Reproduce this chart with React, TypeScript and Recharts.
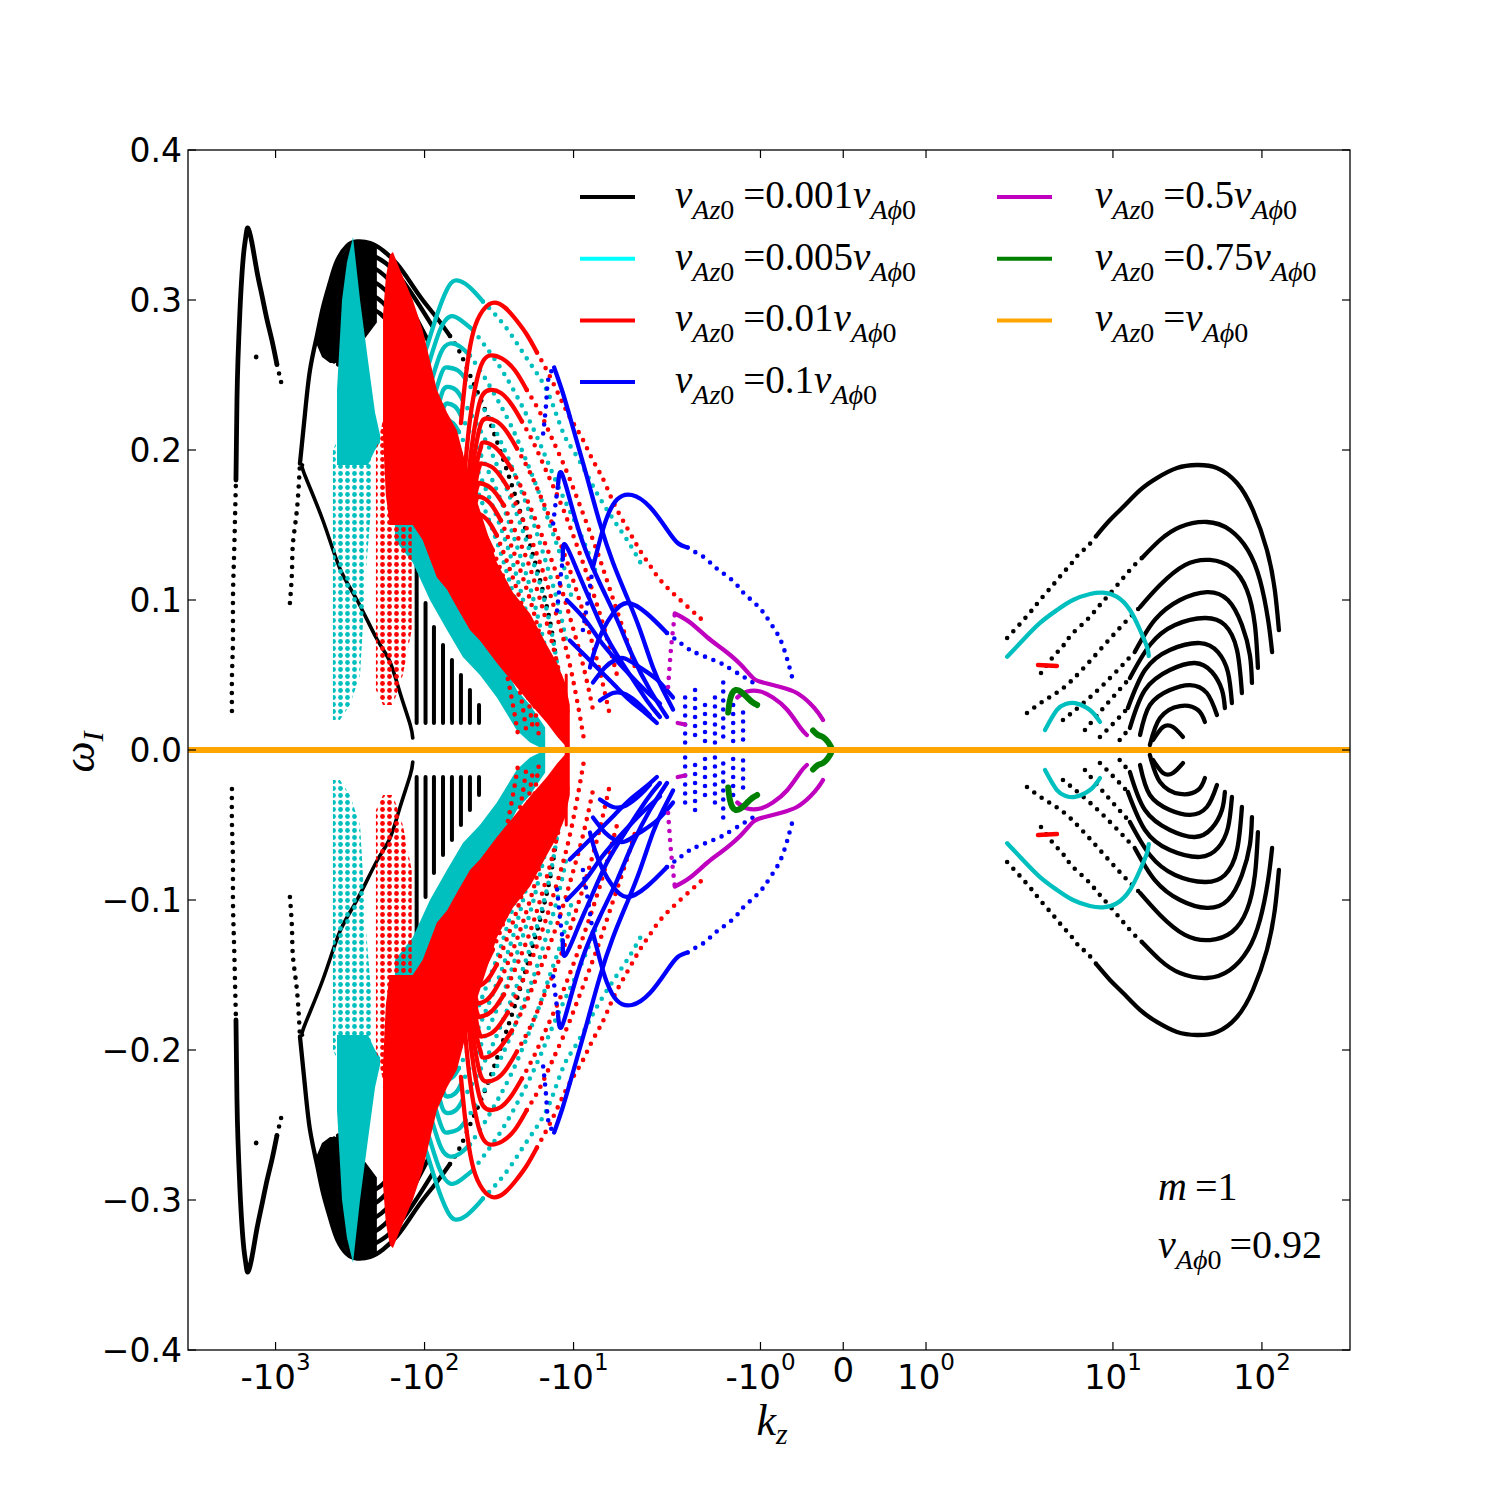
import React from "react";
import { ComposedChart, Line, Area, Scatter, XAxis, YAxis } from "recharts";

type Pt = [number, number]; // [kz, omega_I]
type Band = [number, number, number]; // [kz, lower omega_I, upper omega_I]

// symlog x axis (linthresh 2, linscale 1, like matplotlib)
const LINTHRESH = 2;
const LINSCALE = 1 / (1 - 1 / 10);
const symlog = (k: number) => {
  const a = Math.abs(k);
  return a <= LINTHRESH ? k * LINSCALE : Math.sign(k) * LINTHRESH * (LINSCALE + Math.log10(a / LINTHRESH));
};

const kzRange = [-3870, 390];
const xTickKz = [-1000, -100, -10, -1, 0, 1, 10, 100];
const xTickBase = ["-10", "-10", "-10", "-10", "0", "10", "10", "10"];
const xTickExp = ["3", "2", "1", "0", "", "0", "1", "2"];
const yTicks = [-0.4, -0.3, -0.2, -0.1, 0, 0.1, 0.2, 0.3, 0.4];
const yTickLabels = ["\u22120.4", "\u22120.3", "\u22120.2", "\u22120.1", "0.0", "0.1", "0.2", "0.3", "0.4"];

const legendCoef = ["0.001", "0.005", "0.01", "0.1", "0.5", "0.75", ""];
const legendColors = ["#000000", "#00ffff", "#ff0000", "#0000ff", "#bf00bf", "#008000", "#ffa500"];

// ---------- vAz0 = 0.001 vAphi0 (black) ----------
const blackSpikeDots: Pt[] = [[-1962, 0.026], [-1962, 0.049], [-1932, 0.073], [-1932, 0.1], [-1902, 0.127], [-1873, 0.153], [-1844, 0.18]];
const blackSpike: Pt[] = [[-1844, 0.18], [-1830, 0.207], [-1816, 0.233], [-1788, 0.26], [-1734, 0.293], [-1681, 0.317], [-1630, 0.333], [-1580, 0.343], [-1532, 0.348], [-1440, 0.338], [-1333, 0.319], [-1234, 0.303], [-1142, 0.287], [-1057, 0.273], [-979, 0.257]];
const blackSpikeEnd: Pt[] = [[-979, 0.257], [-906, 0.243], [-890, 0.241]];
const blackStray: Pt[] = [[-1350, 0.262]];
const blackHumpDots: Pt[] = [[-801, 0.098], [-776, 0.119], [-764, 0.138], [-719, 0.16], [-686, 0.191]];
const blackHump: Pt[] = [[-686, 0.191], [-635, 0.224], [-588, 0.253], [-528, 0.276], [-481, 0.295], [-431, 0.312], [-387, 0.326], [-332, 0.336], [-284, 0.339], [-232, 0.338], [-190, 0.333], [-153, 0.324], [-125, 0.312], [-103, 0.3], [-82.6, 0.288], [-67.5, 0.276]];
const blackHumpTail: Pt[] = [[-67.5, 0.276], [-57.9, 0.265], [-49.6, 0.25], [-39.3, 0.227], [-31.2, 0.2], [-24.7, 0.17], [-19.6, 0.137], [-15.5, 0.1], [-13.1, 0.06], [-11.8, 0.007]];
const blackCore: Band[] = [[-528, 0.27, 0.28], [-488, 0.262, 0.29], [-431, 0.258, 0.312], [-370, 0.258, 0.328], [-317, 0.26, 0.337], [-271, 0.27, 0.339], [-209, 0.285, 0.336]];
const blackInner1: Pt[] = [[-488, 0.27], [-418, 0.3], [-342, 0.323], [-284, 0.332], [-215, 0.329], [-158, 0.319], [-116, 0.301], [-89.2, 0.283]];
const blackInner2: Pt[] = [[-459, 0.265], [-393, 0.292], [-327, 0.313], [-280, 0.323], [-215, 0.321], [-158, 0.309], [-120, 0.292], [-94.9, 0.273]];
const blackInner3: Pt[] = [[-431, 0.261], [-370, 0.283], [-317, 0.303], [-271, 0.313], [-209, 0.311], [-158, 0.299], [-123, 0.281], [-101, 0.263]];
const blackInner4: Pt[] = [[-406, 0.259], [-347, 0.277], [-302, 0.293], [-263, 0.303], [-206, 0.301], [-158, 0.288], [-127, 0.271], [-107, 0.255]];
const blackInner5: Pt[] = [[-381, 0.257], [-332, 0.27], [-289, 0.283], [-255, 0.293], [-199, 0.291], [-156, 0.277], [-131, 0.261], [-114, 0.245]];
const blackDiag: Pt[] = [[-660, 0.19], [-635, 0.183], [-481, 0.153], [-370, 0.121], [-284, 0.1], [-209, 0.074], [-171, 0.059], [-146, 0.038], [-125, 0.017], [-120, 0.008]];
const blackStripeKz = [-113, -98.5, -86.5, -75.2, -65.5, -57.0, -49.6, -43.1];
const blackStripeTop = [0.125, 0.098, 0.082, 0.07, 0.06, 0.05, 0.04, 0.03];
const blackR1Dots: Pt[] = [[1.98, 0.0747], [2.65, 0.0893], [3.29, 0.1007], [3.96, 0.11], [4.62, 0.118], [5.31, 0.1247], [5.91, 0.1307], [6.69, 0.1353], [7.81, 0.1433]];
const blackR1: Pt[] = [[7.81, 0.1433], [9.55, 0.1533], [11.7, 0.162], [15.2, 0.1733], [19.7, 0.1813], [26.9, 0.188], [36.6, 0.19], [49.9, 0.188], [68.0, 0.178], [87.0, 0.16], [108, 0.1333], [122, 0.1067], [130, 0.08]];
const blackR2Dots: Pt[] = [[3.29, 0.0513], [3.96, 0.062], [4.62, 0.0693], [5.31, 0.0773], [6.69, 0.0867], [8.18, 0.0967], [10.3, 0.108], [13.0, 0.12], [15.9, 0.1287]];
const blackR2: Pt[] = [[15.9, 0.1287], [20.7, 0.14], [28.2, 0.1487], [42.7, 0.152], [61.0, 0.1467], [80.5, 0.1333], [97.0, 0.1133], [110, 0.0867], [117, 0.0653]];
const blackR3Dots: Pt[] = [[2.65, 0.0247], [3.5, 0.0333], [4.55, 0.0407], [6.01, 0.052], [8.18, 0.0667], [11.1, 0.0813], [15.2, 0.0953]];
const blackR3: Pt[] = [[15.2, 0.0953], [20.7, 0.11], [30.4, 0.1233], [44.8, 0.1267], [62.9, 0.1213], [79.3, 0.1067], [89.7, 0.0833], [94.0, 0.0547]];
const blackR4Dots: Pt[] = [[4.62, 0.02], [6.01, 0.0293], [8.18, 0.0413], [11.1, 0.0547], [14.0, 0.0653]];
const blackR4: Pt[] = [[14.0, 0.0653], [19.1, 0.0867], [28.2, 0.1], [42.7, 0.1053], [59.1, 0.1], [73.4, 0.0833], [83.0, 0.0633], [85.7, 0.0447]];
const blackR5Dots: Pt[] = [[6.49, 0.0133], [8.18, 0.0253], [10.3, 0.0367], [13.0, 0.048]];
const blackR5: Pt[] = [[13.0, 0.048], [17.7, 0.07], [26.1, 0.0833], [41.4, 0.088], [56.4, 0.0833], [68.0, 0.0667], [73.4, 0.038]];
const blackR6Dots: Pt[] = [[8.18, 0.0087], [10.3, 0.0187], [12.6, 0.028]];
const blackR6: Pt[] = [[12.6, 0.028], [16.4, 0.0533], [24.1, 0.0667], [38.4, 0.0713], [50.7, 0.0653], [59.1, 0.052], [62.9, 0.0313]];
const blackR7Dots: Pt[] = [[11.1, 0.0067], [13.0, 0.0147]];
const blackR7: Pt[] = [[13.0, 0.0147], [16.4, 0.04], [24.1, 0.0533], [35.5, 0.058], [46.2, 0.052], [53.9, 0.04], [56.4, 0.028]];
const blackR8: Pt[] = [[15.2, 0.01], [17.7, 0.03], [24.1, 0.04], [32.9, 0.0433], [42.7, 0.038], [49.9, 0.0233]];
const blackR9: Pt[] = [[17.7, 0.0033], [20.7, 0.0213], [28.2, 0.0293], [37.2, 0.0267], [41.4, 0.0187]];
const blackR10: Pt[] = [[18.6, 0.0067], [21.7, 0.0153], [25.3, 0.0153], [29.5, 0.0087]];

// ---------- vAz0 = 0.005 vAphi0 (cyan) ----------
const cyanSpikeCore: Band[] = [[-387, 0.19, 0.24], [-358, 0.19, 0.3], [-332, 0.19, 0.325], [-302, 0.19, 0.342], [-271, 0.19, 0.3], [-240, 0.19, 0.26], [-215, 0.2, 0.225], [-199, 0.205, 0.21]];
const cyanCloud: Band[] = [[-412, 0.02, 0.2], [-370, 0.02, 0.21], [-317, 0.03, 0.21], [-271, 0.05, 0.2], [-247, 0.12, 0.2], [-225, 0.17, 0.2]];
const cyanBand: Band[] = [[-158, 0.14, 0.19], [-120, 0.125, 0.16], [-92, 0.1, 0.14], [-70.7, 0.08, 0.12], [-55.3, 0.062, 0.1], [-42.5, 0.05, 0.08], [-32.7, 0.035, 0.065], [-24.0, 0.013, 0.04], [-19.6, 0.005, 0.03], [-15.5, 0, 0.015]];
const cyanArc1: Pt[] = [[-107, 0.257], [-96.4, 0.269], [-82.6, 0.29], [-70.7, 0.307], [-62.5, 0.313], [-53.6, 0.311], [-45.9, 0.305], [-40.6, 0.299]];
const cyanArc1Dots: Pt[] = [[-40.6, 0.299], [-32.7, 0.289], [-26.7, 0.278], [-21.9, 0.265], [-17.6, 0.251], [-14.4, 0.235], [-11.8, 0.212], [-10.1, 0.2], [-8.26, 0.185], [-6.86, 0.17], [-5.11, 0.15], [-4.18, 0.137], [-3.47, 0.123]];
const cyanArc2: Pt[] = [[-107, 0.24], [-92, 0.26], [-78.8, 0.28], [-67.5, 0.289], [-57.9, 0.287], [-47.3, 0.28]];
const cyanArc2Dots: Pt[] = [[-47.3, 0.28], [-36.4, 0.265], [-28.9, 0.25], [-22.9, 0.232], [-18.2, 0.212], [-14.9, 0.192], [-12.3, 0.173], [-10.1, 0.155], [-8.38, 0.137], [-6.97, 0.117]];
const cyanArc3: Pt[] = [[-103, 0.227], [-89.2, 0.247], [-77.6, 0.265], [-67.5, 0.271], [-57.9, 0.269], [-49.6, 0.263]];
const cyanArc3Dots: Pt[] = [[-49.6, 0.263], [-39.9, 0.249], [-32.2, 0.233], [-25.9, 0.215], [-21.2, 0.195], [-17.3, 0.173], [-14.4, 0.15], [-12.0, 0.127], [-10.2, 0.1]];
const cyanArc4: Pt[] = [[-99.4, 0.213], [-86.5, 0.235], [-76.4, 0.252], [-69.7, 0.255], [-59.7, 0.253], [-52.8, 0.247]];
const cyanArc4Dots: Pt[] = [[-52.8, 0.247], [-42.5, 0.232], [-34.2, 0.215], [-27.6, 0.195], [-22.5, 0.173], [-18.4, 0.15], [-15.3, 0.125], [-12.9, 0.1], [-11.2, 0.073]];
const cyanArc5: Pt[] = [[-94.9, 0.201], [-83.8, 0.223], [-76.4, 0.238], [-70.7, 0.242], [-61.5, 0.24], [-55.3, 0.233]];
const cyanArc5Dots: Pt[] = [[-55.3, 0.233], [-44.5, 0.217], [-35.8, 0.199], [-28.9, 0.177], [-23.6, 0.155], [-19.3, 0.13], [-16.0, 0.103], [-13.7, 0.073], [-12.1, 0.04]];
const cyanArc6: Pt[] = [[-92, 0.19], [-82.6, 0.212], [-75.2, 0.227], [-70.7, 0.231], [-62.5, 0.229], [-57.0, 0.223]];
const cyanArc6Dots: Pt[] = [[-57.0, 0.223], [-45.9, 0.205], [-37.0, 0.185], [-29.8, 0.163], [-24.4, 0.138], [-19.9, 0.111], [-16.8, 0.083], [-14.4, 0.053], [-12.9, 0.02]];
const cyanArc7: Pt[] = [[-89.2, 0.18], [-81.3, 0.201], [-75.2, 0.216], [-71.8, 0.22], [-64.5, 0.218], [-58.8, 0.212]];
const cyanArc7Dots: Pt[] = [[-58.8, 0.212], [-47.3, 0.193], [-38.1, 0.172], [-30.7, 0.148], [-25.1, 0.122], [-20.9, 0.093], [-17.6, 0.063], [-15.3, 0.03]];
const cyanArc8: Pt[] = [[-86.5, 0.17], [-80.1, 0.192], [-75.2, 0.207], [-71.8, 0.211], [-65.5, 0.209], [-60.6, 0.203]];
const cyanArc8Dots: Pt[] = [[-60.6, 0.203], [-48.8, 0.183], [-39.3, 0.16], [-31.7, 0.135], [-25.9, 0.107], [-21.5, 0.077], [-18.4, 0.043]];
const cyanRight: Pt[] = [[1.98, 0.0622], [2.49, 0.0733], [3.24, 0.0847], [4.21, 0.0933], [5.39, 0.1], [7.01, 0.104], [8.57, 0.1049], [10.6, 0.1022], [13.0, 0.0933], [15.2, 0.08], [16.9, 0.0689], [17.4, 0.0627]];
const cyanRightSmall: Pt[] = [[3.5, 0.0133], [4.21, 0.0267], [4.84, 0.0307], [5.56, 0.0313], [7.01, 0.0267], [8.18, 0.0187]];

// ---------- vAz0 = 0.01 vAphi0 (red) ----------
const redCloud: Band[] = [[-212, 0.04, 0.2], [-190, 0.03, 0.22], [-163, 0.03, 0.2], [-140, 0.05, 0.18], [-122, 0.08, 0.16]];
const redBand: Band[] = [[-190, 0.21, 0.29], [-182, 0.17, 0.315], [-171, 0.15, 0.33], [-163, 0.15, 0.332], [-146, 0.15, 0.32], [-120, 0.15, 0.3], [-103, 0.14, 0.28], [-82.6, 0.115, 0.24], [-70.7, 0.107, 0.225], [-60.6, 0.095, 0.213], [-49.6, 0.08, 0.18], [-42.5, 0.073, 0.16], [-32.7, 0.058, 0.125], [-25.5, 0.045, 0.105], [-19.6, 0.031, 0.091], [-15.1, 0.018, 0.07], [-12.9, 0.009, 0.058], [-11.4, 0.003, 0.045], [-10.6, 0, 0.03]];
const redArc1: Pt[] = [[-57.0, 0.218], [-52.8, 0.25], [-48.1, 0.275], [-42.5, 0.29], [-35.3, 0.298], [-28.9, 0.295], [-24.4, 0.287], [-20.6, 0.277], [-17.6, 0.265]];
const redArc1Dots: Pt[] = [[-17.6, 0.265], [-14.4, 0.249], [-11.8, 0.231], [-10.2, 0.219], [-8.78, 0.208], [-7.76, 0.197], [-6.86, 0.187], [-6.16, 0.178], [-5.28, 0.163], [-4.31, 0.147], [-3.58, 0.133], [-3.07, 0.123], [-2.55, 0.112], [-1.93, 0.098], [-1.67, 0.085]];
const redArc2: Pt[] = [[-53.6, 0.187], [-49.6, 0.22], [-44.5, 0.247], [-40.6, 0.259], [-36.4, 0.263], [-30.2, 0.261], [-24.7, 0.253], [-20.6, 0.24]];
const redArc2Dots: Pt[] = [[-20.6, 0.24], [-16.8, 0.225], [-14.0, 0.208], [-11.6, 0.19], [-9.64, 0.17], [-8.01, 0.149], [-6.65, 0.127], [-5.53, 0.103], [-4.59, 0.079], [-3.81, 0.053]];
const redArc3: Pt[] = [[-51.9, 0.173], [-48.1, 0.203], [-43.8, 0.227], [-40.6, 0.237], [-36.4, 0.24], [-30.7, 0.238], [-25.9, 0.23], [-22.2, 0.219]];
const redArc3Dots: Pt[] = [[-22.2, 0.219], [-18.2, 0.203], [-15.1, 0.185], [-12.5, 0.167], [-10.4, 0.147], [-8.65, 0.125], [-7.18, 0.101], [-6.06, 0.077], [-5.11, 0.05]];
const redArc4: Pt[] = [[-51.1, 0.163], [-47.3, 0.19], [-43.8, 0.21], [-41.2, 0.219], [-38.1, 0.221], [-32.7, 0.219], [-28.0, 0.212], [-24.0, 0.201]];
const redArc4Dots: Pt[] = [[-24.0, 0.201], [-19.6, 0.185], [-16.3, 0.167], [-13.5, 0.148], [-11.2, 0.127], [-9.34, 0.103], [-7.88, 0.079], [-6.65, 0.052], [-5.7, 0.023]];
const redArc5: Pt[] = [[-49.6, 0.153], [-46.6, 0.177], [-43.8, 0.195], [-41.8, 0.202], [-40.6, 0.205], [-34.8, 0.203], [-29.8, 0.196], [-25.9, 0.187]];
const redArc5Dots: Pt[] = [[-25.9, 0.187], [-21.2, 0.17], [-17.6, 0.151], [-14.6, 0.131], [-12.1, 0.108], [-10.2, 0.083], [-8.65, 0.057], [-7.41, 0.027]];
const redArc6: Pt[] = [[-48.8, 0.145], [-46.6, 0.167], [-44.5, 0.183], [-42.5, 0.19], [-41.2, 0.191], [-35.8, 0.189], [-31.2, 0.183], [-27.6, 0.175]];
const redArc6Dots: Pt[] = [[-27.6, 0.175], [-22.9, 0.158], [-19.0, 0.139], [-15.8, 0.117], [-13.3, 0.093], [-11.2, 0.067], [-9.64, 0.037], [-8.51, 0.007]];
const redArc7: Pt[] = [[-48.1, 0.137], [-46.6, 0.157], [-45.2, 0.172], [-43.8, 0.177], [-43.1, 0.178], [-37.5, 0.176], [-33.2, 0.171], [-29.3, 0.163]];
const redArc7Dots: Pt[] = [[-29.3, 0.163], [-24.4, 0.145], [-20.2, 0.125], [-17.1, 0.103], [-14.4, 0.077], [-12.3, 0.049], [-10.7, 0.02]];
const redArc8: Pt[] = [[-48.1, 0.13], [-47.3, 0.148], [-45.9, 0.163], [-44.5, 0.168], [-43.8, 0.169], [-38.7, 0.167], [-34.2, 0.161], [-30.7, 0.153]];
const redArc8Dots: Pt[] = [[-30.7, 0.153], [-25.9, 0.135], [-21.9, 0.115], [-18.4, 0.091], [-15.8, 0.065], [-13.7, 0.037], [-12.1, 0.007]];
const redArc9: Pt[] = [[-49.6, 0.123], [-48.8, 0.14], [-48.1, 0.153], [-46.6, 0.157], [-45.2, 0.158], [-40.6, 0.156], [-36.4, 0.151], [-32.7, 0.143]];
const redArc9Dots: Pt[] = [[-32.7, 0.143], [-27.6, 0.124], [-23.3, 0.103], [-19.9, 0.079], [-17.3, 0.052], [-15.3, 0.023]];
const redArc10: Pt[] = [[-51.1, 0.117], [-50.4, 0.132], [-49.6, 0.143], [-48.1, 0.148], [-46.6, 0.149], [-41.8, 0.147], [-38.1, 0.141], [-34.8, 0.133]];
const redArc10Dots: Pt[] = [[-34.8, 0.133], [-29.3, 0.114], [-25.1, 0.092], [-21.5, 0.067], [-19.0, 0.04], [-17.1, 0.01]];
const redArc11: Pt[] = [[-52.8, 0.107], [-51.9, 0.12], [-50.4, 0.13], [-48.1, 0.135], [-44.5, 0.135], [-40.6, 0.133], [-37.0, 0.127]];
const redArc11Dots: Pt[] = [[-37.0, 0.127], [-31.7, 0.109], [-27.1, 0.088], [-23.3, 0.065], [-20.6, 0.04], [-18.7, 0.013]];
const redArc12: Pt[] = [[-53.6, 0.1], [-52.8, 0.112], [-51.1, 0.122], [-48.8, 0.126], [-45.9, 0.127], [-42.5, 0.125], [-38.7, 0.119]];
const redArc12Dots: Pt[] = [[-38.7, 0.119], [-33.7, 0.102], [-29.3, 0.081], [-25.5, 0.059], [-22.5, 0.035], [-20.6, 0.01]];
const redArc13: Pt[] = [[-55.3, 0.092], [-54.4, 0.103], [-52.8, 0.113], [-50.4, 0.117], [-48.1, 0.118], [-44.5, 0.116], [-41.2, 0.111]];
const redArc13Dots: Pt[] = [[-41.2, 0.111], [-36.4, 0.095], [-32.2, 0.075], [-28.4, 0.053], [-25.5, 0.03], [-23.3, 0.007]];
const redStem: Pt[] = [[-11.2, 0], [-11.2, 0.05]];
const redRight: Pt[] = [[3.14, 0.0567], [4.21, 0.056]];

// ---------- vAz0 = 0.1 vAphi0 (blue) ----------
const blueArc1Dots: Pt[] = [[-16.0, 0.211], [-15.3, 0.23], [-14.9, 0.245], [-14.2, 0.252], [-13.5, 0.255]];
const blueArc1: Pt[] = [[-13.5, 0.255], [-11.8, 0.238], [-10.1, 0.215], [-8.13, 0.182], [-6.65, 0.151], [-5.44, 0.125], [-4.38, 0.102], [-3.58, 0.08], [-2.93, 0.055], [-2.51, 0.04], [-2.15, 0.027]];
const blueArc2Dots: Pt[] = [[-13.7, 0.151], [-13.1, 0.167], [-12.7, 0.177]];
const blueArc2: Pt[] = [[-12.7, 0.177], [-12.1, 0.185], [-10.6, 0.167], [-8.65, 0.138], [-6.65, 0.111], [-5.11, 0.087], [-3.99, 0.062], [-3.07, 0.04], [-2.36, 0.022]];
const blueArc3Dots: Pt[] = [[-12.9, 0.093], [-12.3, 0.113], [-11.8, 0.127]];
const blueArc3: Pt[] = [[-11.8, 0.127], [-11.4, 0.137], [-9.49, 0.12], [-7.76, 0.1], [-5.97, 0.075], [-4.38, 0.053], [-3.22, 0.033], [-2.63, 0.022]];
const blueHumpDots: Pt[] = [[-8.65, 0.08], [-8.01, 0.1], [-7.41, 0.122]];
const blueHump: Pt[] = [[-7.41, 0.122], [-6.65, 0.14], [-5.97, 0.155], [-5.11, 0.167], [-4.06, 0.17], [-3.07, 0.162], [-2.36, 0.147], [-2.0, 0.138], [-1.88, 0.135]];
const blueHumpTail: Pt[] = [[-1.88, 0.135], [-1.79, 0.132], [-1.67, 0.128], [-1.55, 0.122], [-1.43, 0.117], [-1.3, 0.111], [-1.21, 0.105], [-1.09, 0.099], [-0.97, 0.092], [-0.86, 0.083], [-0.74, 0.071], [-0.62, 0.049]];
const blueHump2: Pt[] = [[-7.76, 0.055], [-7.18, 0.067], [-6.35, 0.08], [-5.44, 0.091], [-4.38, 0.098], [-3.22, 0.091], [-2.36, 0.078]];
const blueHump2Tail: Pt[] = [[-2.36, 0.078], [-1.91, 0.069], [-1.79, 0.065], [-1.57, 0.06], [-1.45, 0.057], [-1.33, 0.053], [-1.21, 0.049], [-1.09, 0.045]];
const blueHump3: Pt[] = [[-7.41, 0.045], [-6.16, 0.055], [-5.28, 0.06], [-4.52, 0.061], [-3.58, 0.055], [-2.76, 0.047], [-2.15, 0.035]];
const blueHump4: Pt[] = [[-6.65, 0.033], [-5.44, 0.038], [-4.45, 0.037], [-3.58, 0.03], [-3.07, 0.023]];
const blueSlope1: Pt[] = [[-11.1, 0.1], [-8.38, 0.087], [-6.65, 0.073], [-5.28, 0.061], [-4.18, 0.05], [-3.32, 0.04], [-2.63, 0.031]];
const blueSlope2: Pt[] = [[-10.6, 0.073], [-8.38, 0.063], [-6.65, 0.053], [-5.28, 0.043], [-4.18, 0.033], [-3.32, 0.025], [-2.76, 0.018]];
const blueColumnKz = [-1.91, -1.79, -1.67, -1.55, -1.45, -1.33, -1.21];
const blueColumnTop = [0.035, 0.04, 0.03, 0.035, 0.045, 0.03, 0.025];

// ---------- vAz0 = 0.5 vAphi0 (magenta) ----------
const magentaRiseDots: Pt[] = [[-2.32, 0.042], [-2.25, 0.06], [-2.19, 0.073], [-2.09, 0.091]];
const magentaArc: Pt[] = [[-2.09, 0.091], [-1.85, 0.085], [-1.64, 0.075], [-1.45, 0.067], [-1.24, 0.057], [-1.09, 0.048], [-0.97, 0.045], [-0.76, 0.042], [-0.56, 0.038], [-0.4, 0.031], [-0.305, 0.025], [-0.245, 0.02]];
const magentaInner: Pt[] = [[-1.28, 0.035], [-1.16, 0.039], [-1.0, 0.039], [-0.85, 0.035], [-0.68, 0.027], [-0.52, 0.015], [-0.44, 0.01]];
const magentaStub: Pt[] = [[-2.0, 0.018], [-1.91, 0.017]];

// ---------- vAz0 = 0.75 vAphi0 (green) ----------
const greenArc: Pt[] = [[-1.39, 0.025], [-1.37, 0.033], [-1.34, 0.038], [-1.3, 0.04], [-1.24, 0.039], [-1.16, 0.035], [-1.1, 0.032], [-1.04, 0.03]];
const greenTip: Pt[] = [[-0.365, 0.013], [-0.305, 0.01], [-0.245, 0.0087], [-0.184, 0.0053], [-0.148, 0.002]];

// ---------- vAz0 = vAphi0 (orange) ----------
const orangeLine: Pt[] = [[-3870, 0], [-1000, 0], [-100, 0], [-10, 0], [-2, 0], [0, 0], [2, 0], [10, 0], [100, 0], [390, 0]];

const BLACK = "#000000";
const CYAN = "#00bfbf";
const RED = "#ff0000";
const BLUE = "#0000ff";
const MAGENTA = "#bf00bf";
const GREEN = "#008000";
const ORANGE = "#ffa500";

type Layer =
  | { kind: "line"; pts: Pt[]; color: string; dots?: boolean; width?: number; mirror?: boolean }
  | { kind: "band"; band: Band[]; fill: string };

const solid = (pts: Pt[], color: string, width = 4.3): Layer => ({ kind: "line", pts, color, width });
const dotted = (pts: Pt[], color: string): Layer => ({ kind: "line", pts, color, dots: true });
const band = (b: Band[], fill: string): Layer => ({ kind: "band", band: b, fill });
const columns = (kz: number[], top: number[], bottom: number, color: string, dots: boolean, width: number): Layer[] =>
  kz.map((k, i) => ({ kind: "line", pts: [[k, top[i]], [k, bottom]] as Pt[], color, dots, width }));

const layers: Layer[] = [
  // black
  dotted(blackSpikeDots, BLACK), solid(blackSpike, BLACK, 4.8), dotted(blackSpikeEnd, BLACK),
  band(blackCore, BLACK),
  dotted(blackHumpDots, BLACK), solid(blackHump, BLACK), dotted(blackHumpTail, BLACK),
  solid(blackInner1, BLACK), solid(blackInner2, BLACK), solid(blackInner3, BLACK), solid(blackInner4, BLACK), solid(blackInner5, BLACK),
  solid(blackDiag, BLACK, 3.6),
  ...columns(blackStripeKz, blackStripeTop, 0.018, BLACK, false, 4),
  dotted(blackR1Dots, BLACK), solid(blackR1, BLACK), dotted(blackR2Dots, BLACK), solid(blackR2, BLACK),
  dotted(blackR3Dots, BLACK), solid(blackR3, BLACK), dotted(blackR4Dots, BLACK), solid(blackR4, BLACK),
  dotted(blackR5Dots, BLACK), solid(blackR5, BLACK), dotted(blackR6Dots, BLACK), solid(blackR6, BLACK),
  dotted(blackR7Dots, BLACK), solid(blackR7, BLACK), solid(blackR8, BLACK), solid(blackR9, BLACK), solid(blackR10, BLACK),
  // cyan
  band(cyanCloud, "url(#dotsCyan)"), band(cyanSpikeCore, CYAN), band(cyanBand, CYAN),
  solid(cyanArc1, CYAN), dotted(cyanArc1Dots, CYAN), solid(cyanArc2, CYAN), dotted(cyanArc2Dots, CYAN),
  solid(cyanArc3, CYAN), dotted(cyanArc3Dots, CYAN), solid(cyanArc4, CYAN), dotted(cyanArc4Dots, CYAN),
  solid(cyanArc5, CYAN), dotted(cyanArc5Dots, CYAN), solid(cyanArc6, CYAN), dotted(cyanArc6Dots, CYAN),
  solid(cyanArc7, CYAN), dotted(cyanArc7Dots, CYAN), solid(cyanArc8, CYAN), dotted(cyanArc8Dots, CYAN),
  solid(cyanRight, CYAN), solid(cyanRightSmall, CYAN),
  // red
  band(redCloud, "url(#dotsRed)"), band(redBand, RED),
  solid(redArc1, RED), dotted(redArc1Dots, RED), solid(redArc2, RED), dotted(redArc2Dots, RED),
  solid(redArc3, RED), dotted(redArc3Dots, RED), solid(redArc4, RED), dotted(redArc4Dots, RED),
  solid(redArc5, RED), dotted(redArc5Dots, RED), solid(redArc6, RED), dotted(redArc6Dots, RED),
  solid(redArc7, RED), dotted(redArc7Dots, RED), solid(redArc8, RED), dotted(redArc8Dots, RED),
  solid(redArc9, RED), dotted(redArc9Dots, RED), solid(redArc10, RED), dotted(redArc10Dots, RED),
  solid(redArc11, RED), dotted(redArc11Dots, RED), solid(redArc12, RED), dotted(redArc12Dots, RED),
  solid(redArc13, RED), dotted(redArc13Dots, RED),
  solid(redStem, RED, 3), solid(redRight, RED, 4.5),
  // blue
  dotted(blueArc1Dots, BLUE), solid(blueArc1, BLUE), dotted(blueArc2Dots, BLUE), solid(blueArc2, BLUE),
  dotted(blueArc3Dots, BLUE), solid(blueArc3, BLUE), dotted(blueHumpDots, BLUE), solid(blueHump, BLUE),
  dotted(blueHumpTail, BLUE), solid(blueHump2, BLUE), dotted(blueHump2Tail, BLUE), solid(blueHump3, BLUE),
  solid(blueHump4, BLUE), solid(blueSlope1, BLUE), solid(blueSlope2, BLUE),
  ...columns(blueColumnKz, blueColumnTop, 0.004, BLUE, true, 4.5),
  // magenta
  dotted(magentaRiseDots, MAGENTA), solid(magentaArc, MAGENTA), solid(magentaInner, MAGENTA), solid(magentaStub, MAGENTA),
  // green
  solid(greenArc, GREEN, 6), solid(greenTip, GREEN, 6),
  // orange
  { kind: "line", pts: orangeLine, color: ORANGE, width: 6, mirror: false },
];

const rowsOf = (pts: Pt[], s: number) => pts.map(([k, w]) => ({ x: symlog(k), y: s * w }));
const bandRows = (b: Band[], s: number) =>
  b.map(([k, lo, hi]) => ({ x: symlog(k), r: s > 0 ? [lo, hi] : [-hi, -lo] }));

const W = 1484;
const H = 1484;
const PL = 180;
const PR = 1342;
const PT = 142;
const PB = 1342;
const SERIF = "'Liberation Serif', 'DejaVu Serif', serif";
const SANS = "'DejaVu Sans', sans-serif";

function XTick(props: any) {
  const { x, payload } = props;
  const i = xTickKz.findIndex((k) => Math.abs(symlog(k) - payload.value) < 1e-6);
  if (i < 0) return null;
  const exp = xTickExp[i];
  return (
    <g>
      <line x1={x} x2={x} y1={PB} y2={PB - 8} stroke="#000" strokeWidth={1.2} />
      <line x1={x} x2={x} y1={PT} y2={PT + 8} stroke="#000" strokeWidth={1.2} />
      <text x={x} y={exp ? PB + 39 : PB + 32} textAnchor="middle" fontFamily={SANS} fontSize={34} fill="#000">
        {xTickBase[i]}
        {exp ? (
          <tspan dy={-19} fontSize={23}>
            {exp}
          </tspan>
        ) : null}
      </text>
    </g>
  );
}

function YTick(props: any) {
  const { y, payload } = props;
  const i = yTicks.findIndex((v) => Math.abs(v - payload.value) < 1e-9);
  if (i < 0) return null;
  return (
    <g>
      <line x1={PL} x2={PL + 8} y1={y} y2={y} stroke="#000" strokeWidth={1.2} />
      <line x1={PR} x2={PR - 8} y1={y} y2={y} stroke="#000" strokeWidth={1.2} />
      <text x={PL - 6} y={y + 12} textAnchor="end" fontFamily={SANS} fontSize={33} fill="#000">
        {yTickLabels[i]}
      </text>
    </g>
  );
}

// v_{Az0} = coef v_{Aphi0}
function VLabel({ x, y, coef }: { x: number; y: number; coef: string }) {
  return (
    <text x={x} y={y} fontFamily={SERIF} fontSize={39} fill="#000">
      <tspan fontStyle="italic">v</tspan>
      <tspan dy={11} fontSize={28} fontStyle="italic">Az</tspan>
      <tspan fontSize={28}>0</tspan>
      <tspan dy={-11} dx={9}>{"=" + coef}</tspan>
      <tspan fontStyle="italic">v</tspan>
      <tspan dy={11} fontSize={28} fontStyle="italic">A{"\u03d5"}</tspan>
      <tspan fontSize={28}>0</tspan>
    </text>
  );
}

function Overlay() {
  return (
    <svg width={W} height={H} style={{ position: "absolute", left: 0, top: 0, pointerEvents: "none" }}>
      <defs>
        <pattern id="dotsCyan" width={7} height={7} patternUnits="userSpaceOnUse">
          <circle cx={3.5} cy={3.5} r={2.4} fill={CYAN} />
        </pattern>
        <pattern id="dotsRed" width={7} height={7} patternUnits="userSpaceOnUse">
          <circle cx={3.5} cy={3.5} r={2.4} fill={RED} />
        </pattern>
      </defs>
      <rect x={PL} y={PT} width={PR - PL} height={PB - PT} fill="none" stroke="#000" strokeWidth={1.3} />
      {legendCoef.map((c, i) => {
        const col = i < 4 ? 0 : 1;
        const row = i < 4 ? i : i - 4;
        const ly = 189 + row * 61.7;
        const lx = col === 0 ? 572 : 989;
        return (
          <g key={i}>
            <line x1={lx} x2={lx + 55} y1={ly} y2={ly} stroke={legendColors[i]} strokeWidth={4} />
            <VLabel x={col === 0 ? 667 : 1087} y={ly + 11} coef={c} />
          </g>
        );
      })}
      <text x={1150} y={1192} fontFamily={SERIF} fontSize={40} fill="#000">
        <tspan fontStyle="italic">m</tspan>
        <tspan dx={8}>=1</tspan>
      </text>
      <text x={1150} y={1250} fontFamily={SERIF} fontSize={40} fill="#000">
        <tspan fontStyle="italic">v</tspan>
        <tspan dy={11} fontSize={28} fontStyle="italic">A{"\u03d5"}</tspan>
        <tspan fontSize={28}>0</tspan>
        <tspan dy={-11} dx={8}>=0.92</tspan>
      </text>
      <text x={764} y={1427} textAnchor="middle" fontFamily={SERIF} fontSize={44} fontStyle="italic" fill="#000">
        k<tspan dy={9} fontSize={30}>z</tspan>
      </text>
      <text
        x={86}
        y={744}
        transform="rotate(-90 86 744)"
        textAnchor="middle"
        fontFamily={SERIF}
        fontSize={44}
        fontStyle="italic"
        fill="#000"
      >
        {"\u03c9"}
        <tspan dy={9} fontSize={30}>I</tspan>
      </text>
    </svg>
  );
}

export default function App() {
  let z = 10;
  return (
    <div style={{ position: "relative", width: W, height: H, background: "#fff" }}>
      <ComposedChart width={W} height={H} margin={{ top: PT, right: W - PR, bottom: H - PB - 80, left: PL - 80 }}>
        <XAxis
          type="number"
          dataKey="x"
          domain={[symlog(kzRange[0]), symlog(kzRange[1])]}
          ticks={xTickKz.map(symlog)}
          interval={0}
          tick={XTick}
          axisLine={false}
          tickLine={false}
          height={80}
          allowDataOverflow
        />
        <YAxis
          type="number"
          domain={[-0.4, 0.4]}
          ticks={yTicks}
          interval={0}
          tick={YTick}
          axisLine={false}
          tickLine={false}
          width={80}
          allowDataOverflow
        />
        {layers.flatMap((L, li) => {
          const signs = L.kind === "line" && L.mirror === false ? [1] : [1, -1];
          return signs.map((s) => {
            z += 1;
            if (L.kind === "band") {
              return (
                <Area
                  key={`b${li}_${s}`}
                  data={bandRows(L.band, s)}
                  dataKey="r"
                  type="linear"
                  stroke="none"
                  fill={L.fill}
                  fillOpacity={1}
                  isAnimationActive={false}
                  activeDot={false}
                  zIndex={z}
                />
              );
            }
            return (
              <Line
                key={`l${li}_${s}`}
                data={rowsOf(L.pts, s)}
                dataKey="y"
                type={L.pts.length > 2 ? "natural" : "linear"}
                stroke={L.color}
                strokeWidth={L.dots ? 4.6 : L.width ?? 4.3}
                strokeDasharray={L.dots ? "0 9" : undefined}
                strokeLinecap="round"
                strokeLinejoin="round"
                dot={false}
                activeDot={false}
                isAnimationActive={false}
                zIndex={z}
              />
            );
          });
        })}
        {[1, -1].map((s) => (
          <Scatter
            key={`stray${s}`}
            data={rowsOf(blackStray, s)}
            dataKey="y"
            fill={BLACK}
            isAnimationActive={false}
            shape={(p: any) => <circle cx={p.cx} cy={p.cy} r={2.4} fill={BLACK} />}
          />
        ))}
      </ComposedChart>
      <Overlay />
    </div>
  );
}
